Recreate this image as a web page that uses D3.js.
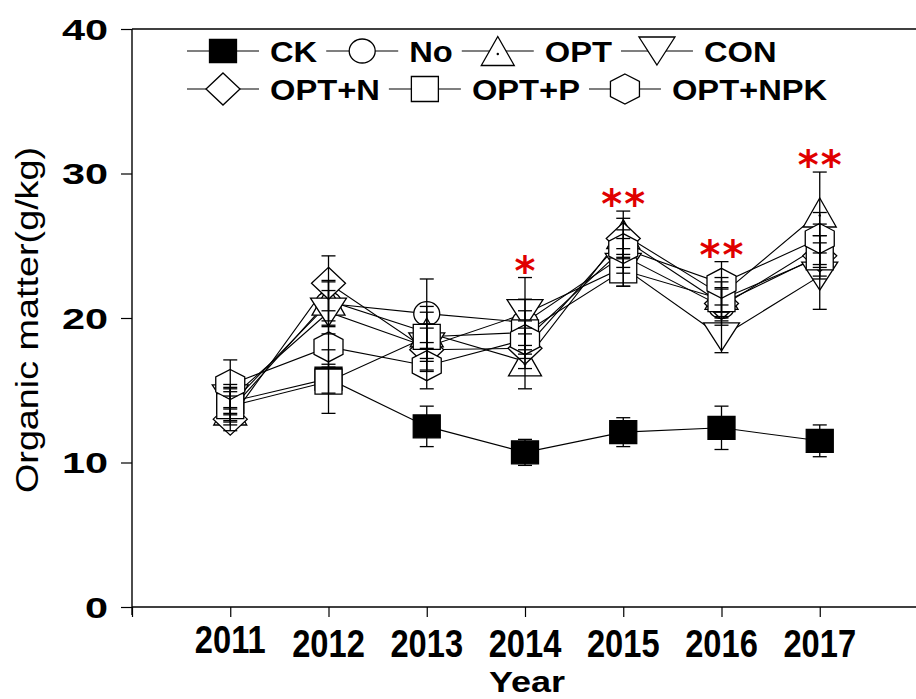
<!DOCTYPE html>
<html>
<head>
<meta charset="utf-8">
<script src="https://cdn.jsdelivr.net/npm/d3@7"></script>
<style>
  html, body { margin: 0; padding: 0; background: #fff; }
  svg { display: block; font-family: "Liberation Sans", Arial, sans-serif; }
</style>
</head>
<body>
<svg id="chart" width="916" height="699"></svg>
<script>
// Organic matter (g/kg) by treatment, 2011-2017, mean ± error
const years = [2011, 2012, 2013, 2014, 2015, 2016, 2017];
const yTicks = [0, 10, 20, 30, 40];

const seriesNames = ["CK", "No", "OPT", "CON", "OPT+N", "OPT+P", "OPT+NPK"];
const symbolTypes = ["filledSquare", "circle", "triangleUp", "triangleDown", "diamond", "square", "hexagon"];

const ckValues     = [14.2, 15.8, 12.5, 10.7, 12.1, 12.4, 11.5];
const ckErr        = [0.9, 1.0, 1.4, 0.9, 1.0, 1.5, 1.1];
const noValues     = [14.0, 21.0, 20.3, 19.7, 24.3, 20.8, 25.0];
const noErr        = [1.2, 1.5, 2.4, 1.6, 1.2, 1.3, 1.5];
const optValues    = [13.6, 21.2, 19.0, 17.0, 25.8, 21.6, 27.3];
const optErr       = [1.0, 1.4, 1.8, 1.9, 1.6, 1.2, 2.8];
const conValues    = [14.4, 20.4, 18.0, 20.3, 23.5, 18.7, 22.9];
const conErr       = [1.0, 1.5, 1.6, 2.5, 1.3, 1.1, 2.3];
const optNValues   = [13.0, 22.4, 17.8, 17.9, 25.5, 21.0, 24.3];
const optNErr      = [0.8, 1.9, 1.5, 1.4, 1.4, 1.0, 1.4];
const optPValues   = [13.9, 15.6, 18.7, 19.0, 23.3, 21.3, 24.2];
const optPErr      = [1.0, 2.2, 1.7, 1.5, 1.1, 1.2, 1.5];
const optNPKValues = [15.4, 18.0, 16.7, 18.5, 24.8, 22.4, 25.5];
const optNPKErr    = [1.7, 1.4, 1.6, 1.3, 1.3, 1.5, 1.8];

// significance marks above each year
const sigYears  = [2014, 2015, 2016, 2017];
const sigLabels = ["*", "**", "**", "**"];

const allValues = [ckValues, noValues, optValues, conValues, optNValues, optPValues, optNPKValues];
const allErrs   = [ckErr, noErr, optErr, conErr, optNErr, optPErr, optNPKErr];

const series = seriesNames.map((name, i) => ({
  name,
  symbol: symbolTypes[i],
  points: years.map((yr, j) => ({ year: yr, value: allValues[i][j], err: allErrs[i][j] }))
}));

const svg = d3.select("#chart");
const x = d3.scaleLinear().domain([2010, 2018]).range([132, 918]);
const y = d3.scaleLinear().domain([0, 40]).range([607, 29]);

// marker outlines, sized by half-width / half-height
const shapeSize = {
  filledSquare: [13.5, 11.5],
  circle: [13, 12],
  triangleUp: [16.5, 14.5],
  triangleDown: [18, 14],
  diamond: [17, 16],
  square: [13.5, 12.5],
  hexagon: [14.5, 15]
};
function shapePath(type) {
  const [w, h] = shapeSize[type];
  switch (type) {
    case "filledSquare":
    case "square":
      return `M${-w},${-h}H${w}V${h}H${-w}Z`;
    case "circle":
      return `M${-w},0A${w},${h} 0 1,0 ${w},0A${w},${h} 0 1,0 ${-w},0Z`;
    case "triangleUp":
      return `M0,${-h}L${w},${h}L${-w},${h}Z`;
    case "triangleDown":
      return `M0,${h}L${w},${-h}L${-w},${-h}Z`;
    case "diamond":
      return `M0,${-h}L${w},0L0,${h}L${-w},0Z`;
    case "hexagon":
      return `M0,${-h}L${w},${-h / 2}L${w},${h / 2}L0,${h}L${-w},${h / 2}L${-w},${-h / 2}Z`;
  }
}
function drawSymbol(g, type) {
  g.append("path")
    .attr("d", shapePath(type))
    .attr("fill", type === "filledSquare" ? "#000" : "#fff")
    .attr("stroke", "#000")
    .attr("stroke-width", 1.3);
  if (type === "triangleUp") {
    g.append("circle").attr("cx", 0).attr("cy", 3).attr("r", 1.2).attr("fill", "#000");
  }
}

// axes
const yAxis = d3.axisLeft(y).tickValues(yTicks).tickSize(11).tickFormat("");
const gy = svg.append("g").attr("transform", "translate(132,0)").call(yAxis);
gy.select(".domain").attr("d", "M0,29V615");
const xAxis = d3.axisBottom(x).tickValues([2010].concat(years)).tickSize(10).tickFormat("");
const gx = svg.append("g").attr("transform", "translate(0,607)").call(xAxis);
gx.select(".domain").attr("d", `M132,0H916`);
svg.selectAll(".tick line").attr("stroke", "#000").attr("stroke-width", 1.2);
svg.selectAll(".domain").attr("stroke", "#000").attr("stroke-width", 1.4);
svg.append("line").attr("x1", 132).attr("x2", 916).attr("y1", 29).attr("y2", 29)
  .attr("stroke", "#000").attr("stroke-width", 1.4);

// y tick labels
svg.append("g").selectAll("text").data(yTicks).join("text")
  .attr("text-anchor", "end")
  .attr("font-weight", "bold")
  .attr("font-size", 30)
  .attr("transform", d => `translate(108,${y(d) + 10.8}) scale(1.38,1)`)
  .text(d => d);

// year tick labels
svg.append("g").selectAll("text").data(years).join("text")
  .attr("text-anchor", "middle")
  .attr("font-weight", "bold")
  .attr("font-size", 38)
  .attr("transform", (d, i) => `translate(${x(d)},${i === 0 ? 653 : 657}) scale(0.86,1)`)
  .text(d => d);

// axis titles
svg.append("text")
  .attr("text-anchor", "middle")
  .attr("font-weight", "bold")
  .attr("font-size", 30)
  .attr("transform", "translate(527,692) scale(1.2,1)")
  .text("Year");
svg.append("text")
  .attr("text-anchor", "middle")
  .attr("font-size", 32)
  .attr("transform", "translate(38,320) rotate(-90) scale(1.18,1)")
  .text("Organic matter(g/kg)");

// connecting lines
const line = d3.line().x(d => x(d.year)).y(d => y(d.value));
svg.append("g").selectAll("path").data(series).join("path")
  .attr("d", d => line(d.points))
  .attr("fill", "none")
  .attr("stroke", "#000")
  .attr("stroke-width", 1.1);

// markers
series.forEach(s => {
  const g = svg.append("g");
  s.points.forEach(p => {
    const m = g.append("g").attr("transform", `translate(${x(p.year)},${y(p.value)})`);
    drawSymbol(m, s.symbol);
  });
});

// error bars
const cap = 7;
series.forEach(s => {
  const g = svg.append("g").attr("stroke", "#000").attr("stroke-width", 1.3);
  s.points.forEach(p => {
    const cx = x(p.year), top = y(p.value + p.err), bot = y(p.value - p.err);
    g.append("line").attr("x1", cx).attr("x2", cx).attr("y1", top).attr("y2", bot);
    g.append("line").attr("x1", cx - cap).attr("x2", cx + cap).attr("y1", top).attr("y2", top);
    g.append("line").attr("x1", cx - cap).attr("x2", cx + cap).attr("y1", bot).attr("y2", bot);
  });
});

// significance asterisks above the highest error bar of each year
sigYears.forEach((yr, i) => {
  const j = years.indexOf(yr);
  const topVal = d3.max(series, s => s.points[j].value + s.points[j].err);
  const cy = y(topVal) - 16;
  svg.append("text")
    .attr("text-anchor", "middle")
    .attr("font-family", "DejaVu Sans")
    .attr("font-weight", "bold")
    .attr("font-size", 40)
    .attr("letter-spacing", 2)
    .attr("fill", "#e00000")
    .attr("x", x(yr) + 1)
    .attr("y", cy + 23)
    .text(sigLabels[i]);
});

// legend: two rows, symbol on a short line then the label
const legendRows = [[0, 1, 2, 3], [4, 5, 6]];
const rowY = [51, 89];
legendRows.forEach((row, r) => {
  let cursor = 187;
  row.forEach(i => {
    const s = series[i];
    const g = svg.append("g");
    g.append("line").attr("x1", cursor).attr("x2", cursor + 72)
      .attr("y1", rowY[r]).attr("y2", rowY[r])
      .attr("stroke", "#000").attr("stroke-width", 1.2);
    drawSymbol(g.append("g").attr("transform", `translate(${cursor + 36},${rowY[r]})`), s.symbol);
    const tx = cursor + 83;
    const t = g.append("text")
      .attr("font-weight", "bold")
      .attr("font-size", 30)
      .attr("transform", `translate(${tx},${rowY[r] + 11}) scale(1.09,1)`)
      .text(s.name);
    cursor = tx + t.node().getComputedTextLength() * 1.09 + 9;
  });
});
</script>
</body>
</html>
